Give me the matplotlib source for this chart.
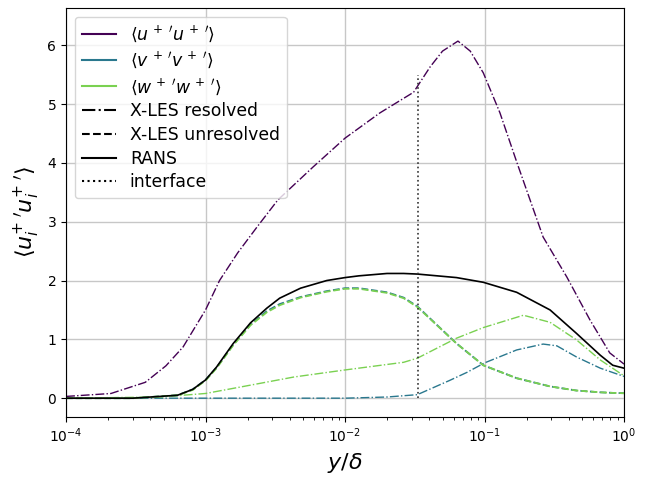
import matplotlib
matplotlib.use("Agg")
import matplotlib.pyplot as plt
from matplotlib.lines import Line2D

# resolved <u'u'>  (x in y/delta)
uu_y = [1e-4, 2.1e-4, 3.7e-4, 5.2e-4, 6.9e-4, 1e-3, 1.26e-3, 1.7e-3, 2.34e-3, 3.3e-3,
        5.9e-3, 1e-2, 1.78e-2, 3.1e-2, 4.07e-2, 5.0e-2, 6.45e-2, 7.9e-2, 9.8e-2,
        1.29e-1, 1.71e-1, 2.63e-1, 3.89e-1, 5.7e-1, 7.9e-1, 1.0]
uu_res = [0.03, 0.08, 0.27, 0.55, 0.87, 1.5, 2.0, 2.47, 2.91, 3.37,
          3.93, 4.42, 4.85, 5.2, 5.63, 5.9, 6.07, 5.9, 5.53,
          4.85, 4.0, 2.74, 2.06, 1.33, 0.77, 0.58]

# resolved <v'v'>
vv_y = [1e-4, 1e-3, 1e-2, 2e-2, 3.3e-2, 5.6e-2, 7.5e-2, 1e-1, 1.7e-1, 2.63e-1,
        3.3e-1, 4.57e-1, 6.76e-1, 1.0]
vv_res = [0.0, 0.0, 0.0, 0.02, 0.06, 0.3, 0.44, 0.6, 0.82, 0.92,
          0.89, 0.7, 0.51, 0.37]

# resolved <w'w'>
ww_y = [1e-4, 4.7e-4, 1e-3, 1.78e-3, 4.3e-3, 1e-2, 2.63e-2, 3.3e-2, 6.3e-2, 9.8e-2,
        1.9e-1, 2.95e-1, 4.57e-1, 6.76e-1, 1.0]
ww_res = [0.0, 0.02, 0.08, 0.19, 0.36, 0.48, 0.61, 0.68, 1.02, 1.2,
          1.41, 1.29, 0.99, 0.65, 0.38]

# unresolved (X-LES) and RANS share one set of wall distances
mod_y = [1e-4, 3e-4, 6.3e-4, 8.1e-4, 1e-3, 1.2e-3, 1.58e-3, 2.1e-3, 2.75e-3, 3.4e-3,
         4.8e-3, 7.4e-3, 1e-2, 1.26e-2, 2e-2, 2.63e-2, 3.3e-2, 6.3e-2, 9.8e-2, 1.7e-1,
         2.95e-1, 4.57e-1, 6.76e-1, 8.3e-1, 1.0]
vv_unres = [0.0, 0.0, 0.05, 0.15, 0.31, 0.52, 0.91, 1.25, 1.48, 1.6,
            1.72, 1.82, 1.87, 1.87, 1.8, 1.71, 1.56, 0.93, 0.56, 0.34,
            0.2, 0.13, 0.1, 0.09, 0.085]
ww_unres = [0.0, 0.0, 0.05, 0.14, 0.3, 0.51, 0.9, 1.24, 1.46, 1.58,
            1.71, 1.81, 1.86, 1.86, 1.79, 1.70, 1.55, 0.93, 0.56, 0.34,
            0.2, 0.13, 0.1, 0.09, 0.085]
rans = [0.0, 0.0, 0.05, 0.15, 0.31, 0.53, 0.93, 1.28, 1.53, 1.7,
        1.87, 2.0, 2.05, 2.08, 2.12, 2.12, 2.11, 2.05, 1.97, 1.8,
        1.5, 1.1, 0.73, 0.56, 0.51]

interface = 0.0333
interface_top = 5.5

c_u = plt.cm.viridis(0.0)
c_v = plt.cm.viridis(0.4)
c_w = plt.cm.viridis(0.8)

fig = plt.figure(figsize=(6.57, 4.79), dpi=100)
ax = fig.add_axes([0.1005, 0.1294, 0.8493, 0.8536])

ax.plot(uu_y, uu_res, '-.', color=c_u, lw=1)
ax.plot(vv_y, vv_res, '-.', color=c_v, lw=1)
ax.plot(ww_y, ww_res, '-.', color=c_w, lw=1)
ax.plot(mod_y, vv_unres, '--', color=c_v, lw=1.3)
ax.plot(mod_y, ww_unres, '--', color=c_w, lw=1.3)
ax.plot(mod_y, rans, '-', color='k', lw=1.2)
ax.plot([interface, interface], [0, interface_top], ':', color='0.2', lw=1.2)

ax.set_xscale('log')
ax.set_xlim(1e-4, 1)
ax.set_ylim(-0.32, 6.63)
ax.grid(True, which='major', color='0.78', lw=1)
ax.set_axisbelow(True)
ax.set_xlabel(r'$y/\delta$', fontsize=16)
ax.set_ylabel(r"$\langle u_i^{+\;\prime} u_i^{+\;\prime}\rangle$", fontsize=16)

handles = [
    Line2D([], [], color=c_u, lw=1.5),
    Line2D([], [], color=c_v, lw=1.5),
    Line2D([], [], color=c_w, lw=1.5),
    Line2D([], [], color='k', ls='-.', lw=1.5),
    Line2D([], [], color='k', ls='--', lw=1.5),
    Line2D([], [], color='k', ls='-', lw=1.5),
    Line2D([], [], color='k', ls=':', lw=1.5),
]
labels = [r"$\langle u^{\,+\;\prime} u^{\,+\;\prime}\rangle$",
          r"$\langle v^{\,+\;\prime} v^{\,+\;\prime}\rangle$",
          r"$\langle w^{\,+\;\prime} w^{\,+\;\prime}\rangle$",
          'X-LES resolved', 'X-LES unresolved', 'RANS', 'interface']
ax.legend(handles, labels, loc='upper left', fontsize=12.4, labelspacing=0.33)

fig.savefig('out.png', dpi=100)
